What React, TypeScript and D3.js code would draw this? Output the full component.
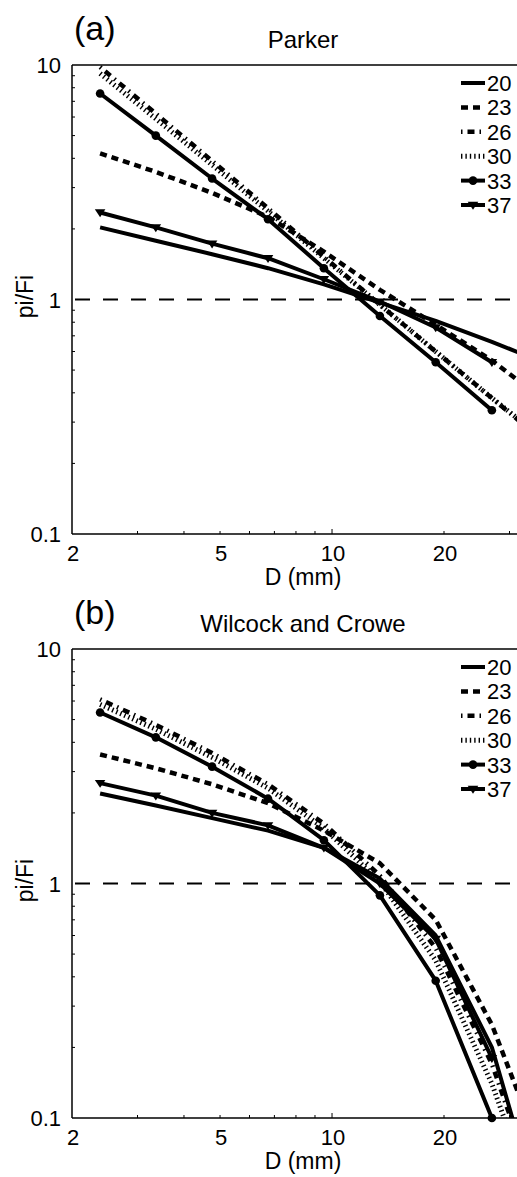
import React from "react";
import * as d3 from "d3";

// Grain size classes (mm)
const grainSizes = [2.38, 3.36, 4.76, 6.73, 9.51, 13.45, 19.0, 26.9, 38.05];
const seriesNames = ["20", "23", "26", "30", "33", "37"];
const xTickLabels = [2, 5, 10, 20];
const xMinorTicks = [3, 4, 5, 6, 7, 8, 9, 10, 20, 30];
const yTickLabels = [0.1, 1, 10];
const yMinorTicks = [0.2, 0.3, 0.4, 0.5, 0.6, 0.7, 0.8, 0.9, 2, 3, 4, 5, 6, 7, 8, 9];

// Panel (a) Parker
const parker20 = [2.03, 1.78, 1.56, 1.36, 1.16, 0.97, 0.81, 0.66, 0.53];
const parker23 = [4.2, 3.5, 2.85, 2.25, 1.6, 1.1, 0.78, 0.55, 0.36];
const parker26 = [9.8, 6.2, 3.9, 2.45, 1.52, 0.95, 0.6, 0.38, 0.24];
const parker30 = [9.2, 5.9, 3.75, 2.38, 1.5, 0.95, 0.6, 0.38, 0.245];
const parker33 = [7.56, 5.0, 3.28, 2.2, 1.36, 0.85, 0.54, 0.337];
const parker37 = [2.35, 2.03, 1.73, 1.5, 1.22, 0.98, 0.76, 0.54];

// Panel (b) Wilcock and Crowe
const wc20 = [2.42, 2.15, 1.9, 1.68, 1.42, 1.05, 0.6, 0.2, 0.03];
const wc23 = [3.55, 3.1, 2.65, 2.2, 1.68, 1.22, 0.7, 0.25, 0.06];
const wc26 = [6.1, 4.75, 3.6, 2.65, 1.8, 1.08, 0.53, 0.17, 0.035];
const wc30 = [5.8, 4.55, 3.45, 2.55, 1.72, 1.02, 0.47, 0.14, 0.03];
const wc33 = [5.36, 4.2, 3.15, 2.3, 1.53, 0.89, 0.385, 0.1];
const wc37 = [2.68, 2.37, 2.0, 1.77, 1.42, 1.0, 0.58, 0.18];

const FONT = "'Liberation Sans', Arial, Helvetica, sans-serif";
const TICK_FS = 22;
const LABEL_FS = 23;
const TITLE_FS = 24;

type Style = { dash?: string; width: number; marker?: "circle" | "tri"; offset?: number };
const styles: Style[] = [
  { width: 4 },
  { dash: "7 5", width: 4.5 },
  { dash: "7 5 1.5 5", width: 4.5, offset: 12 },
  { dash: "1.4 3", width: 5 },
  { width: 4, marker: "circle" },
  { width: 4, marker: "tri" },
];

const W = 517;
const H = 1177;
const LEFT = 72;
const DECADE_X = 372;
const DECADE_Y = 234.5;

function Panel({ top, label, title, data, clipId }: { top: number; label: string; title: string; data: number[][]; clipId: string }) {
  const bottom = top + 2 * DECADE_Y;
  const right = LEFT + Math.log10(16) * DECADE_X;
  const x = d3.scaleLog().domain([2, 32]).range([LEFT, right]);
  const y = d3.scaleLog().domain([0.1, 10]).range([bottom, top]);
  const line = d3
    .line<number>()
    .x((_, i) => x(grainSizes[i]))
    .y((v) => y(v));

  const tri = (cx: number, cy: number) => {
    const s = 5.3;
    return `M${cx - s},${cy - s * 0.6}L${cx + s},${cy - s * 0.6}L${cx},${cy + s * 0.9}Z`;
  };

  const legX0 = 461;
  const legX1 = 485;
  const legY0 = top + 18;
  const legStep = 24.4;

  return (
    <g>
      <defs>
        <clipPath id={clipId}>
          <rect x={LEFT} y={top} width={right - LEFT + 50} height={bottom - top} />
        </clipPath>
      </defs>
      <text x={74} y={top - 25} fontFamily={FONT} fontSize={34}>
        {label}
      </text>
      <text x={303} y={top - 17} fontFamily={FONT} fontSize={TITLE_FS} textAnchor="middle">
        {title}
      </text>
      {/* axes */}
      <line x1={LEFT} x2={W + 10} y1={top} y2={top} stroke="#000" strokeWidth={1.5} />
      <line x1={LEFT} x2={W + 10} y1={bottom} y2={bottom} stroke="#000" strokeWidth={1.5} />
      <line x1={LEFT} x2={LEFT} y1={top} y2={bottom} stroke="#000" strokeWidth={1.5} />
      {xMinorTicks.map((t) => (
        <line key={"xt" + t} x1={x(t)} x2={x(t)} y1={bottom} y2={bottom - (t === 10 ? 5 : 3)} stroke="#000" strokeWidth={1} />
      ))}
      {yMinorTicks.map((t) => (
        <line key={"yt" + t} x1={LEFT} x2={LEFT + 3} y1={y(t)} y2={y(t)} stroke="#000" strokeWidth={1} />
      ))}
      {xTickLabels.map((t) => (
        <text key={"xl" + t} x={x(t) + 1} y={bottom + 27} fontFamily={FONT} fontSize={TICK_FS} textAnchor="middle">
          {t}
        </text>
      ))}
      {yTickLabels.map((t) => (
        <text key={"yl" + t} x={LEFT - 11} y={y(t) + 8} fontFamily={FONT} fontSize={TICK_FS} textAnchor="end">
          {t}
        </text>
      ))}
      <text x={303} y={bottom + 51} fontFamily={FONT} fontSize={LABEL_FS} textAnchor="middle">
        D (mm)
      </text>
      <text
        transform={`translate(33,${y(1) - 3}) rotate(-90)`}
        fontFamily={FONT}
        fontSize={LABEL_FS}
        textAnchor="middle"
      >
        pi/Fi
      </text>
      {/* reference line */}
      <line x1={LEFT + 3} x2={W + 10} y1={y(1)} y2={y(1)} stroke="#000" strokeWidth={2.2} strokeDasharray="15 13" />
      {/* series */}
      <g clipPath={`url(#${clipId})`}>
        {data.map((vals, si) => (
          <path
            key={"s" + si}
            d={line(vals) || ""}
            fill="none"
            stroke="#000"
            strokeWidth={styles[si].width}
            strokeDasharray={styles[si].dash}
            strokeDashoffset={styles[si].offset || 0}
            strokeLinejoin="round"
          />
        ))}
      </g>
      {data.map((vals, si) =>
        styles[si].marker === "circle"
          ? vals.map((v, i) => <circle key={`m${si}-${i}`} cx={x(grainSizes[i])} cy={y(v)} r={4.3} fill="#000" />)
          : styles[si].marker === "tri"
          ? vals.map((v, i) => <path key={`m${si}-${i}`} d={tri(x(grainSizes[i]), y(v))} fill="#000" />)
          : null
      )}
      {/* legend */}
      {seriesNames.map((name, si) => {
        const ly = legY0 + si * legStep;
        const st = styles[si];
        return (
          <g key={"lg" + name}>
            <line
              x1={legX0}
              x2={legX1}
              y1={ly}
              y2={ly}
              stroke="#000"
              strokeWidth={st.width}
              strokeDasharray={st.dash}
              strokeDashoffset={st.offset || 0}
            />
            {st.marker === "circle" && <circle cx={(legX0 + legX1) / 2} cy={ly} r={4.3} fill="#000" />}
            {st.marker === "tri" && <path d={tri((legX0 + legX1) / 2, ly)} fill="#000" />}
            <text x={487} y={ly + 8} fontFamily={FONT} fontSize={TICK_FS}>
              {name}
            </text>
          </g>
        );
      })}
    </g>
  );
}

export default function App() {
  const parker = [parker20, parker23, parker26, parker30, parker33, parker37];
  const wc = [wc20, wc23, wc26, wc30, wc33, wc37];
  return (
    <svg
      width={W}
      height={H}
      style={{ position: "absolute", left: 0, top: 0, background: "#fff", overflow: "hidden" }}
    >
      <rect x={0} y={0} width={W} height={H} fill="#fff" />
      <Panel top={65} label="(a)" title="Parker" data={parker} clipId="clipA" />
      <Panel top={649} label="(b)" title="Wilcock and Crowe" data={wc} clipId="clipB" />
    </svg>
  );
}
